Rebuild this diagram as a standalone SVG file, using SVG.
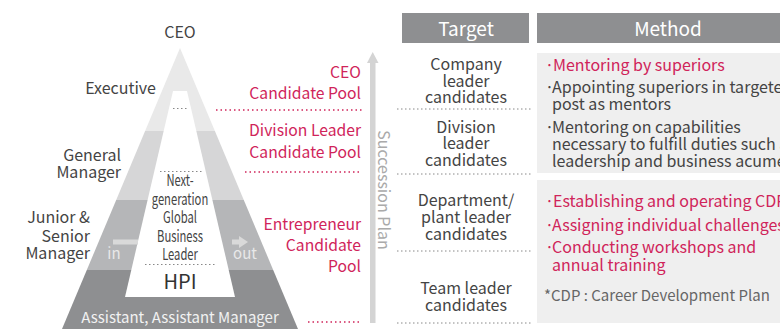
<svg xmlns="http://www.w3.org/2000/svg" width="780" height="329" viewBox="0 0 780 329">
<style>
text{font-family:"Noto Sans CJK KR","Source Sans Pro","Noto Sans",sans-serif}
.dk{fill:#444;font-size:16px}
.rd{fill:#d0245a;font-size:15.7px;text-anchor:end}
.tg{fill:#444;font-size:16px;text-anchor:middle}
.mt{font-size:16px;fill:#444}
.mr{font-size:16px;fill:#d0245a}
.hd{fill:#fff;font-size:19px;text-anchor:middle}
.gdot{stroke:#888;stroke-width:1;stroke-dasharray:1.5 2.5;fill:none}
.rdot{stroke:#d0245a;stroke-width:1.3;stroke-dasharray:1.5 3;fill:none}
.inn{fill:#444;font-size:16px;text-anchor:middle}
</style>
<rect width="780" height="329" fill="#fff"/>

<g id="pyramid">
<polygon points="180,48 145.1,131 214.9,131" fill="#e9e9e9"/>
<polygon points="145.1,131 214.9,131 243.8,200 116.2,200" fill="#d6d6d7"/>
<polygon points="116.2,200 243.8,200 273.2,270 86.8,270" fill="#b5b6b8"/>
<polygon points="86.8,270 273.2,270 298,329 62,329" fill="#8e8f91"/>
<polygon points="173,91 187,91 235,297 125,297" fill="#fff"/>
<rect x="113" y="239.5" width="25" height="5" fill="#d9d9d9"/>
<rect x="232" y="239.5" width="8" height="5" fill="#d9d9d9"/>
<polygon points="239,236 248,242 239,248" fill="#d9d9d9"/>
<line class="gdot" x1="173" y1="108.5" x2="188" y2="108.5"/>
<line class="gdot" x1="160" y1="171.5" x2="203" y2="171.5"/>
<line class="gdot" x1="145" y1="264.5" x2="217" y2="264.5"/>
<g class="inn">
<text transform="translate(180,186) scale(0.7,1)">Next-</text>
<text transform="translate(180,205) scale(0.7,1)">generation</text>
<text transform="translate(180,223) scale(0.7,1)">Global</text>
<text transform="translate(180,242) scale(0.7,1)">Business</text>
<text transform="translate(180,260) scale(0.7,1)">Leader</text>
</g>
<text x="180" y="289" fill="#333" font-size="20" text-anchor="middle">HPI</text>
<text x="180" y="323" fill="#f2f2f2" font-size="15" text-anchor="middle">Assistant, Assistant Manager</text>
<text x="114" y="259" fill="#e8e8e8" font-size="15" text-anchor="middle">in</text>
<text x="245" y="259" fill="#e8e8e8" font-size="15" text-anchor="middle">out</text>
</g>

<g id="levels">
<text class="dk" x="180" y="38" text-anchor="middle">CEO</text>
<text class="dk" x="156" y="94" text-anchor="end">Executive</text>
<text class="dk" x="121" y="161" text-anchor="end">General</text>
<text class="dk" x="121" y="178" text-anchor="end">Manager</text>
<text class="dk" x="90" y="223" text-anchor="end">Junior &amp;</text>
<text class="dk" x="90" y="242" text-anchor="end">Senior</text>
<text class="dk" x="90" y="259" text-anchor="end">Manager</text>
</g>

<g id="pools">
<text class="rd" x="361" y="78">CEO</text>
<text class="rd" x="361" y="99">Candidate Pool</text>
<text class="rd" x="361" y="136">Division Leader</text>
<text class="rd" x="361" y="158">Candidate Pool</text>
<text class="rd" x="361" y="230">Entrepreneur</text>
<text class="rd" x="361" y="251">Candidate</text>
<text class="rd" x="361" y="272">Pool</text>
</g>

<g id="connectors">
<line class="rdot" x1="216" y1="110" x2="362" y2="110"/>
<line class="rdot" x1="245" y1="172" x2="362" y2="172"/>
<line class="rdot" x1="308" y1="322" x2="362" y2="322"/>
<line class="gdot" x1="397" y1="109" x2="531" y2="109"/>
<line class="gdot" x1="397" y1="174" x2="531" y2="174"/>
<line class="gdot" x1="397" y1="251" x2="531" y2="251"/>
<line class="gdot" x1="397" y1="323" x2="531" y2="323"/>
</g>

<g id="succession">
<rect x="370" y="62" width="5.5" height="261" fill="#d4d4d4"/>
<polygon points="367,63 372.7,52 378.5,63" fill="#d4d4d4"/>
<text transform="translate(378,190) rotate(90)" fill="#aaa" font-size="16" text-anchor="middle">Succession Plan</text>
</g>

<g id="target">
<rect x="402" y="13" width="127" height="30" fill="#8e8f91"/>
<text class="hd" x="466" y="36">Target</text>
<text class="tg" x="466" y="70">Company</text>
<text class="tg" x="466" y="87">leader</text>
<text class="tg" x="466" y="103">candidates</text>
<text class="tg" x="466" y="133">Division</text>
<text class="tg" x="466" y="149">leader</text>
<text class="tg" x="466" y="166">candidates</text>
<text class="tg" x="466" y="206">Department/</text>
<text class="tg" x="466" y="223">plant leader</text>
<text class="tg" x="466" y="240">candidates</text>
<text class="tg" x="466" y="294">Team leader</text>
<text class="tg" x="466" y="311">candidates</text>
</g>

<g id="method">
<rect x="537" y="13" width="243" height="30" fill="#8e8f91"/>
<text class="hd" x="668" y="36">Method</text>
<rect x="537" y="53" width="243" height="120" fill="#efefef"/>
<rect x="537" y="180" width="243" height="143" fill="#efefef"/>
<text class="mr" x="545" y="71">·<tspan x="553">Mentoring by superiors</tspan></text>
<text class="mt" x="545" y="93">·<tspan x="552">Appointing superiors in targeted</tspan></text>
<text class="mt" x="552" y="110">post as mentors</text>
<text class="mt" x="545" y="133">·<tspan x="552">Mentoring on capabilities</tspan></text>
<text class="mt" x="552" y="150">necessary to fulfill duties such as</text>
<text class="mt" x="552" y="167">leadership and business acumen</text>
<text class="mr" x="545" y="207">·<tspan x="553">Establishing and operating CDP</tspan></text>
<text class="mr" x="545" y="231">·<tspan x="552">Assigning individual challenges</tspan></text>
<text class="mr" x="545" y="253">·<tspan x="552">Conducting workshops and</tspan></text>
<text class="mr" x="552" y="271">annual training</text>
<text x="544" y="301" fill="#666" font-size="15">*CDP : Career Development Plan</text>
</g>
</svg>
